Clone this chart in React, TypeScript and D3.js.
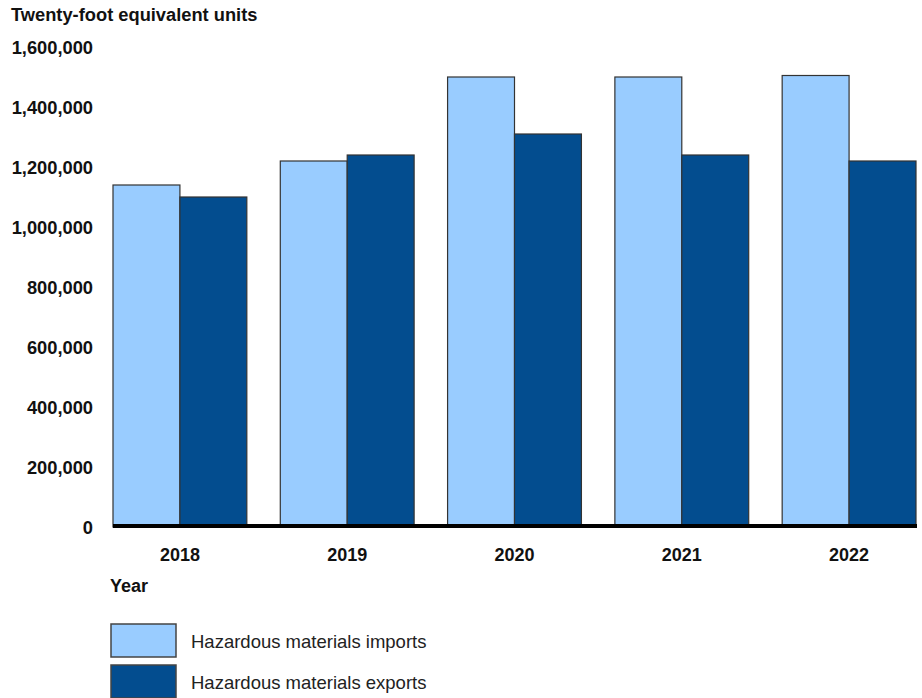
import React from "react";
import * as d3 from "d3";

const years = ["2018", "2019", "2020", "2021", "2022"];
const imports = [1140000, 1220000, 1500000, 1500000, 1505000];
const exportsV = [1100000, 1240000, 1310000, 1240000, 1220000];
const seriesNames = ["Hazardous materials imports", "Hazardous materials exports"];
const seriesColors = ["#99CCFF", "#034D8F"];
const yTicks = [0, 200000, 400000, 600000, 800000, 1000000, 1200000, 1400000, 1600000];

const W = 922;
const H = 698;
const FONT = "'Liberation Sans', Arial, sans-serif";

export default function App() {
  const x0 = d3.scaleBand<string>().domain(years).range([113, 916]).paddingInner(0.2).paddingOuter(0);
  const x1 = d3.scaleBand<number>().domain([0, 1]).range([0, x0.bandwidth()]).padding(0);
  const y = d3.scaleLinear().domain([0, 1600000]).range([527, 47]);
  const fmt = d3.format(",");
  const series = [imports, exportsV];

  return (
    <svg width={W} height={H} style={{ position: "absolute", left: 0, top: 0, background: "#fff" }}>
      <text x={11} y={21} fontFamily={FONT} fontWeight="bold" fontSize={18.3} fill="#111">
        Twenty-foot equivalent units
      </text>
      {yTicks.map((t) => (
        <text key={t} x={93} y={y(t)} dy="0.36em" textAnchor="end" fontFamily={FONT} fontWeight="bold" fontSize={18.3} fill="#111">
          {fmt(t)}
        </text>
      ))}
      {years.map((yr, i) => (
        <g key={yr} transform={`translate(${x0(yr)},0)`}>
          {series.map((s, k) => (
            <rect
              key={k}
              x={x1(k)}
              y={y(s[i])}
              width={x1.bandwidth()}
              height={y(0) - y(s[i])}
              fill={seriesColors[k]}
              stroke="#333"
              strokeWidth={1.2}
            />
          ))}
        </g>
      ))}
      <line x1={113} x2={917} y1={526} y2={526} stroke="#000" strokeWidth={4} />
      {years.map((yr) => (
        <text key={yr} x={(x0(yr) as number) + x0.bandwidth() / 2} y={561} textAnchor="middle" fontFamily={FONT} fontWeight="bold" fontSize={18} fill="#111">
          {yr}
        </text>
      ))}
      <text x={110} y={592} fontFamily={FONT} fontWeight="bold" fontSize={18} fill="#111">
        Year
      </text>
      {seriesNames.map((n, k) => (
        <g key={n} transform={`translate(111,${624 + k * 41})`}>
          <rect x={0} y={0} width={65} height={33} fill={seriesColors[k]} stroke="#444" strokeWidth={1.5} />
          <text x={80} y={17} dy="0.36em" fontFamily={FONT} fontSize={18.5} fill="#222">
            {n}
          </text>
        </g>
      ))}
    </svg>
  );
}
